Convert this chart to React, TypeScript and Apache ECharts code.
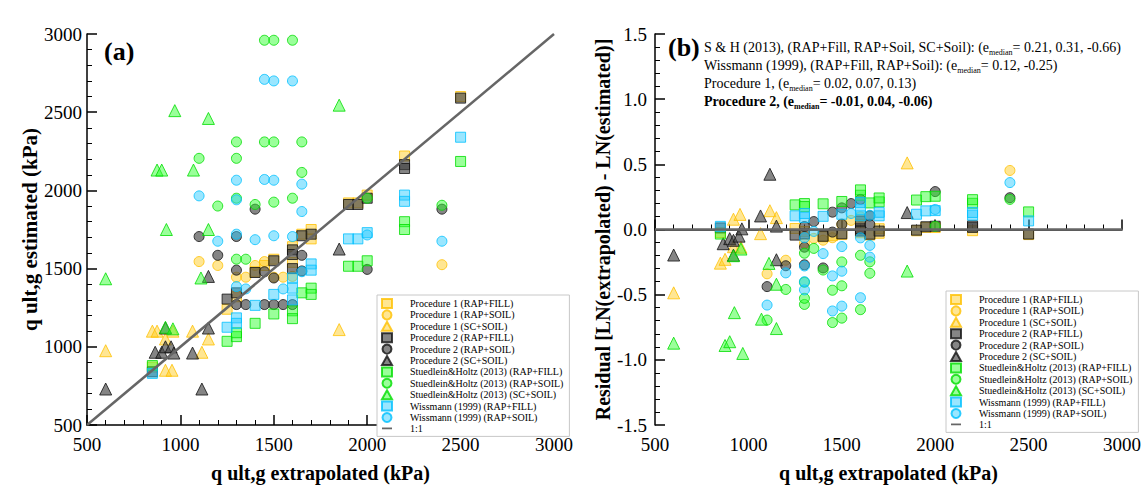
import React, { useEffect, useRef } from "react";
import * as echarts from "echarts";

// [extrapolated, estimated] in kPa
const p1Fill = [[850,870],[1250,1240],[1300,1320],[1400,1480],[1450,1520],[1500,1560],[1600,1540],[1600,1640],[1650,1720],[1700,1750],[1700,1690],[1900,1920],[1950,1920],[2000,1970],[2200,2220],[2500,2600]];
const p1Soil = [[1100,1545],[1200,1520],[1300,1445],[1350,1445],[1400,1520],[1450,1545],[1500,1445],[1550,1445],[1600,1450],[2400,1525]];
const p1Sc = [[600,975],[850,1100],[875,1100],[920,1050],[960,1100],[920,850],[955,850],[1065,1100],[1115,965],[1150,1050],[1850,1110]];
const p2Fill = [[850,840],[1250,1305],[1300,1345],[1400,1475],[1500,1550],[1600,1620],[1600,1590],[1600,1500],[1650,1710],[1700,1720],[1900,1910],[1950,1910],[2000,1950],[2200,2165],[2200,2140],[2500,2590]];
const p2Soil = [[1100,1705],[1200,1585],[1300,1705],[1300,1490],[1300,1270],[1350,1270],[1400,1880],[1450,1480],[1450,1270],[1500,1440],[1500,1270],[1550,1270],[1600,1270],[1650,1585],[1650,1485],[2000,1495],[2400,1880]];
const p2Sc = [[600,730],[865,965],[900,965],[920,1000],[950,1000],[920,1120],[965,960],[1065,960],[1115,730],[1150,1120],[1150,1450],[1850,1625]];
const shFill = [[850,880],[1250,1035],[1300,1065],[1300,1090],[1400,1150],[1500,1210],[1600,1230],[1600,1180],[1650,1345],[1700,1375],[1700,1335],[1900,1515],[1950,1515],[2000,1550],[2200,1800],[2200,1750],[2500,2185]];
const shSoil = [[1100,2205],[1200,1900],[1300,2310],[1300,2205],[1300,1950],[1300,1560],[1350,1560],[1400,1910],[1450,2960],[1450,2310],[1500,2960],[1500,2310],[1500,1925],[1600,2960],[1600,1950],[1650,2310],[1650,2115],[2000,1950],[2400,1905]];
const shSc = [[600,1435],[875,2130],[900,2130],[925,1750],[970,2510],[1070,2130],[1110,1440],[1150,2460],[1150,1750],[920,1125],[960,1115],[1850,2545]];
const wFill = [[850,830],[1250,1125],[1300,1185],[1300,1150],[1400,1265],[1500,1335],[1600,1440],[1600,1375],[1600,1300],[1700,1530],[1700,1490],[1900,1690],[1950,1690],[2000,1730],[2200,1970],[2200,1930],[2500,2340]];
const wSoil = [[1100,1965],[1200,1675],[1300,2065],[1300,1940],[1300,1720],[1300,1385],[1350,1370],[1400,1685],[1450,2710],[1450,2070],[1500,2700],[1500,2065],[1500,1710],[1550,1370],[1600,2700],[1600,1705],[1650,2040],[1650,1865],[1650,1480],[2000,1715],[2400,1675]];
const oneToOne = [[500,500],[3000,3000]];
const zeroLine = [[500,0],[3000,0]];

const names = [
  "Procedure 1 (RAP+FILL)", "Procedure 1 (RAP+SOIL)", "Procedure 1 (SC+SOIL)",
  "Procedure 2 (RAP+FILL)", "Procedure 2 (RAP+SOIL)", "Procedure 2 (SC+SOIL)",
  "Stuedlein&Holtz (2013) (RAP+FILL)", "Stuedlein&Holtz (2013) (RAP+SOIL)", "Stuedlein&Holtz (2013) (SC+SOIL)",
  "Wissmann (1999) (RAP+FILL)", "Wissmann (1999) (RAP+SOIL)", "1:1",
];
const datasets = [p1Fill, p1Soil, p1Sc, p2Fill, p2Soil, p2Sc, shFill, shSoil, shSc, wFill, wSoil];
const symbols = ["rect", "circle", "triangle", "rect", "circle", "triangle", "rect", "circle", "triangle", "rect", "circle"];
const fills = [
  "rgba(255,203,30,0.6)", "rgba(255,203,30,0.6)", "rgba(255,203,30,0.6)",
  "rgba(64,64,64,0.8)", "rgba(64,64,64,0.8)", "rgba(64,64,64,0.8)",
  "rgba(43,255,43,0.6)", "rgba(43,255,43,0.6)", "rgba(43,255,43,0.6)",
  "rgba(43,203,255,0.6)", "rgba(43,203,255,0.6)",
];
const borders = ["#FFC000", "#FFC000", "#FFC000", "#111111", "#111111", "#111111", "#00DD00", "#00DD00", "#00DD00", "#00C0FF", "#00C0FF"];

const serif = "'Liberation Serif', 'Times New Roman', serif";

export default function App() {
  const ref = useRef<HTMLDivElement>(null);
  useEffect(() => {
    const chart = echarts.init(ref.current!, null, { renderer: "svg" });
    const axisCommon = {
      axisLine: { show: true, lineStyle: { color: "#000", width: 1.5 } },
      axisTick: { show: true, inside: true, length: 10, lineStyle: { color: "#000", width: 1.5 } },
      minorTick: { show: true, splitNumber: 5, length: 5, lineStyle: { color: "#000", width: 1 } },
      splitLine: { show: false },
      axisLabel: { color: "#000", fontFamily: serif, fontSize: 19, margin: 10, formatter: (v: number) => String(v) },
      nameTextStyle: { color: "#000", fontFamily: serif, fontSize: 20, fontWeight: "bold" },
    };
    const scatter = (gi: number, residual: boolean) =>
      datasets.map((d, i) => ({
        type: "scatter",
        name: names[i],
        xAxisIndex: gi,
        yAxisIndex: gi,
        symbol: symbols[i],
        symbolSize: symbols[i] === "triangle" ? 12 : 10,
        itemStyle: { color: fills[i], borderColor: borders[i], borderWidth: 1 },
        data: residual ? d.map(([x, y]) => [x, +Math.log(x / y).toFixed(3)]) : d,
        z: 2,
      }));
    const lineSeries = (gi: number, data: number[][]) => ({
      type: "line",
      name: "1:1",
      xAxisIndex: gi,
      yAxisIndex: gi,
      data,
      showSymbol: false,
      symbol: "none",
      lineStyle: { color: "#666", width: 2.5 },
      itemStyle: { color: "#666" },
      z: 5,
    });
    const legendData = names.map((n) =>
      n === "1:1" ? { name: n, icon: "path://M0,0 L20,0 L20,3.5 L0,3.5 Z" } : { name: n }
    );
    const legendCommon = {
      orient: "vertical",
      data: legendData,
      itemWidth: 10,
      itemHeight: 9,
      itemGap: 0.4,
      padding: [3, 6, 3, 4],
      borderColor: "#c8c8c8",
      borderWidth: 1,
      backgroundColor: "#fff",
      textStyle: { fontFamily: serif, fontSize: 10, lineHeight: 10, color: "#000", padding: [0, 0, 0, 13] },
      selectedMode: false,
    };
    const sub = { fontSize: 8, verticalAlign: "bottom", lineHeight: 14 };
    chart.setOption({
      animation: false,
      backgroundColor: "#fff",
      grid: [
        { left: 87, top: 34, width: 467, height: 399 },
        { left: 655, top: 34, width: 467, height: 399 },
      ],
      xAxis: [
        { ...axisCommon, type: "value", gridIndex: 0, min: 500, max: 3000, interval: 500, name: "q ult,g extrapolated (kPa)", nameLocation: "middle", nameGap: 38 },
        { ...axisCommon, type: "value", gridIndex: 1, min: 500, max: 3000, interval: 500, name: "q ult,g extrapolated (kPa)", nameLocation: "middle", nameGap: 38 },
      ],
      yAxis: [
        { ...axisCommon, type: "value", gridIndex: 0, min: 500, max: 3000, interval: 500, name: "q ult,g estimated (kPa)", nameLocation: "middle", nameGap: 30,
          axisLabel: { ...axisCommon.axisLabel, margin: 5 },
          nameTextStyle: { ...axisCommon.nameTextStyle, fontSize: 21 } },
        {
          ...axisCommon, type: "value", gridIndex: 1, min: -1.5, max: 1.5, interval: 0.5,
          name: "Residual [LN(extrapolated) - LN(estimated)]", nameLocation: "middle", nameGap: 40,
          axisLabel: { ...axisCommon.axisLabel, margin: 8, formatter: (v: number) => v.toFixed(1) },
        },
      ],
      legend: [
        { ...legendCommon, left: 377, top: 295 },
        { ...legendCommon, left: 946, top: 291 },
      ],
      graphic: [
        { type: "text", left: 104, top: 38, style: { text: "(a)", font: `bold 26px ${serif}`, fill: "#000" } },
        { type: "text", left: 668, top: 34, style: { text: "(b)", font: `bold 26px ${serif}`, fill: "#000" } },
        {
          type: "text", left: 704, top: 40,
          style: {
            text:
              "{n|S & H (2013), (RAP+Fill, RAP+Soil, SC+Soil): (e}{s|median}{n|= 0.21, 0.31, -0.66)}\n" +
              "{n|Wissmann (1999), (RAP+Fill, RAP+Soil): (e}{s|median}{n|= 0.12, -0.25)}\n" +
              "{n|Procedure 1, (e}{s|median}{n|= 0.02, 0.07, 0.13)}\n" +
              "{b|Procedure 2, (e}{bs|median}{b|= -0.01, 0.04, -0.06)}",
            rich: {
              n: { fontFamily: serif, fontSize: 14, lineHeight: 18, verticalAlign: "middle", fill: "#000" },
              s: { ...sub, fontFamily: serif, fill: "#000" },
              b: { fontFamily: serif, fontSize: 14, fontWeight: "bold", lineHeight: 18, verticalAlign: "middle", fill: "#000" },
              bs: { ...sub, fontFamily: serif, fontWeight: "bold", fill: "#000" },
            },
          },
        },
      ],
      series: [
        ...scatter(0, false),
        lineSeries(0, oneToOne),
        ...scatter(1, true),
        lineSeries(1, zeroLine),
      ],
    });
    return () => chart.dispose();
  }, []);
  return (
    <div
      ref={ref}
      style={{ position: "fixed", left: 0, top: 0, width: 1147, height: 488, background: "#fff" }}
    />
  );
}
